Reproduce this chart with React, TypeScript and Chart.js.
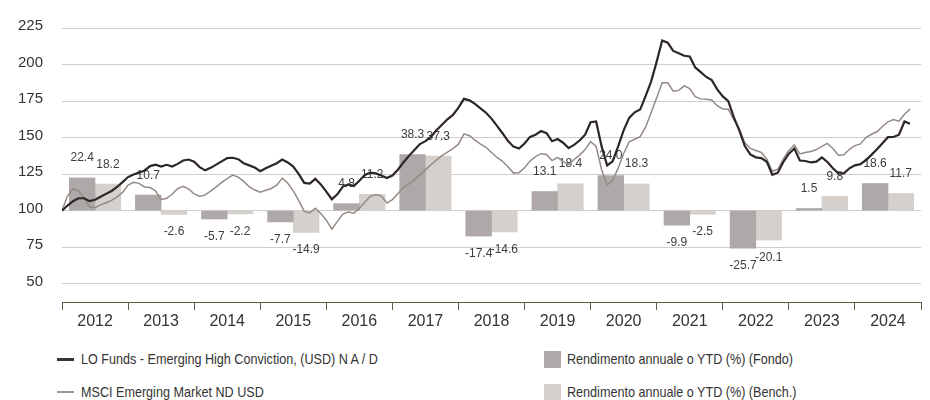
import React, { useEffect, useRef } from 'react';
import { Chart, registerables } from 'chart.js';

Chart.register(...registerables);

const years = ['2012', '2013', '2014', '2015', '2016', '2017', '2018', '2019', '2020', '2021', '2022', '2023', '2024'];
const fundAnnual = [22.4, 10.7, -5.7, -7.7, 4.8, 38.3, -17.4, 13.1, 24.0, -9.9, -25.7, 1.5, 18.6];
const benchAnnual = [18.2, -2.6, -2.2, -14.9, 11.2, 37.3, -14.6, 18.4, 18.3, -2.5, -20.1, 9.8, 11.7];
const yTicks = [50, 75, 100, 125, 150, 175, 200, 225];

const fundName = 'LO Funds - Emerging High Conviction, (USD) N A / D';
const benchName = 'MSCI Emerging Market ND USD';
const fundBarName = 'Rendimento annuale o YTD (%) (Fondo)';
const benchBarName = 'Rendimento annuale o YTD (%) (Bench.)';

// monthly index values, Dec 2011 = 100
const fundIndex = [
  100, 103.5, 106.5, 108.5, 108.5, 106.5, 107.5, 109.5, 111.5, 113.5, 116.2, 119.5,
  123, 124.8, 126, 127.5, 130.5, 131.5, 130.2, 131.4, 130.2, 132, 134.3, 135,
  133.5, 129.8, 127.6, 129.3, 131.5, 133.7, 136, 136.2, 135.2, 132.5, 131, 129.5,
  127, 129, 130.8, 132.5, 135, 133, 130.2, 125, 119, 118.5, 121.8, 118,
  113, 107.8, 111.2, 116.5, 118, 116.8, 120.5, 124.5, 126, 125.5, 124, 122.3,
  124, 128, 133, 137.5, 141.5, 145.6, 147.6, 150.5, 155, 158.8, 162.5, 165.5,
  170.5, 176.5, 175.5, 173.1, 170, 167, 163, 158, 153, 147.6, 143.8, 142.5,
  146, 150.5, 152, 154.5, 153, 147.5, 149, 146.5, 142.8, 145, 148, 152,
  160.5, 161, 144, 131, 133.8, 144, 155, 163.5, 167.3, 169.2, 178.5, 188.5,
  202, 216.5, 215, 209.3, 207.8, 206, 205.5, 198, 194.8, 191.5, 189.3, 183,
  178.2, 175, 164, 155, 144.2, 138.5, 136.5, 136, 133.5, 124.5, 126, 133.3,
  139, 142.5, 134.3, 134, 133, 133.5, 136.5, 133.3, 129, 125.5, 125.5, 129,
  131, 131.8, 134.6, 138.2, 142, 146.2, 150.3, 150.4, 152, 161, 159.5,
];
const benchIndex = [
  100, 110, 115, 113.5, 109, 102.5, 102, 104, 105.4, 107, 109.5, 112.5,
  117.5, 119.4, 118.7, 116.2, 115.8, 113.5, 107.5, 108.5, 111.2, 115, 116.6, 114.8,
  111.5, 109.7, 110.8, 113.4, 116.3, 119.3, 122, 124.3, 123, 120, 116.4, 114.1,
  112.7, 114, 115.2, 117.5, 122.3, 118.8, 113.5, 106.8, 99.5, 98.5, 101.6, 98,
  93.5, 87.3, 92.5, 97.6, 99.1, 98.2, 101.5, 106, 109.8, 111, 110, 105.2,
  107.6, 111.6, 116, 118.4, 121.2, 124.5, 127.9, 131.4, 134.6, 137.6, 140, 142.5,
  145.5, 152.6, 151.3, 148.2, 145.6, 143.4, 139.8, 136.4, 133.8, 130, 125.7, 126,
  129.3, 134, 137, 139, 138.5, 134.3, 136.5, 133.8, 131.5, 135, 138, 141.8,
  147.2, 144, 128, 117.5, 120.6, 129.1, 139.1, 147.1, 148.9, 150.7, 157.3, 167.2,
  177.2, 187.5, 187.5, 181.8, 182.3, 185.4, 183.5, 178, 176.5, 176.2, 175.7, 171.8,
  169.6, 169.4, 162.3, 155.8, 146.4, 142.6, 141.2, 139.8, 135.2, 127, 128.3, 135.5,
  141.2, 145, 138.8, 139.8, 140.5, 141.8, 144, 146, 142.5, 138, 138.3, 142,
  144.5, 145.7, 150, 152.3, 154, 157.6, 160.8, 162.3, 161.2, 166, 169.5,
];

const FONT = '"Liberation Sans", Arial, sans-serif';

const barLabels = {
  id: 'barLabels',
  afterDatasetDraw(chart: any, args: any) {
    const ds: any = chart.data.datasets[args.index];
    if (!ds.annual) return;
    const ctx = chart.ctx;
    ctx.save();
    ctx.font = '12px ' + FONT;
    ctx.fillStyle = '#3d3d3d';
    ctx.textAlign = 'center';
    ctx.textBaseline = 'alphabetic';
    args.meta.data.forEach((bar: any, i: number) => {
      const v = ds.annual[i];
      const y = v >= 0 ? bar.y - 16.5 : bar.y + 21;
      ctx.fillText(v.toFixed(1), bar.x, y);
    });
    ctx.restore();
  },
};

export default function App() {
  const ref = useRef<HTMLCanvasElement>(null);

  useEffect(() => {
    if (!ref.current) return;
    const chart = new Chart(ref.current, {
      type: 'bar',
      data: {
        labels: years,
        datasets: [
          {
            type: 'line',
            label: fundName,
            data: fundIndex.map((v, i) => ({ x: i, y: v })),
            xAxisID: 'xm',
            borderColor: '#2e2626',
            borderWidth: 2.2,
            pointRadius: 0,
            tension: 0,
            order: 0,
          } as any,
          {
            type: 'line',
            label: benchName,
            data: benchIndex.map((v, i) => ({ x: i, y: v })),
            xAxisID: 'xm',
            borderColor: '#958a84',
            borderWidth: 1.5,
            pointRadius: 0,
            tension: 0,
            order: 1,
          } as any,
          {
            type: 'bar',
            label: fundBarName,
            data: fundAnnual.map((v) => 100 + v),
            annual: fundAnnual,
            base: 100,
            xAxisID: 'x',
            backgroundColor: '#aea9a8',
            borderWidth: 0,
            barThickness: 25.7,
            order: 2,
          } as any,
          {
            type: 'bar',
            label: benchBarName,
            data: benchAnnual.map((v) => 100 + v),
            annual: benchAnnual,
            base: 100,
            xAxisID: 'x',
            backgroundColor: '#d5d0cc',
            borderWidth: 0,
            barThickness: 25.7,
            order: 3,
          } as any,
        ],
      },
      options: {
        animation: false,
        responsive: false,
        layout: { padding: { top: 21, right: 9, left: 0, bottom: 0 } },
        plugins: { legend: { display: false }, tooltip: { enabled: false } },
        scales: {
          x: {
            type: 'category',
            position: 'bottom',
            offset: true,
            grid: {
              display: true,
              drawOnChartArea: false,
              drawTicks: true,
              tickLength: 8,
              color: '#5f5f45',
              offset: true,
            },
            border: { display: true, color: '#5f5f45', width: 1 },
            ticks: { font: { family: FONT, size: 16 }, color: '#333', padding: 2, maxRotation: 0 },
            afterFit: (s: any) => {
              s.height = 38;
            },
          },
          xm: {
            type: 'linear',
            display: false,
            offset: false,
            grid: { offset: false },
            min: 0,
            max: 156,
          },
          y: {
            type: 'linear',
            min: 37.5,
            max: 225,
            afterBuildTicks: (s: any) => {
              s.ticks = yTicks.map((v) => ({ value: v }));
            },
            grid: { color: '#cdcdcd', lineWidth: 1, drawTicks: false },
            border: { display: false },
            ticks: { font: { family: FONT, size: 15 }, color: '#333', padding: 19, labelOffset: -2 },
            afterFit: (s: any) => {
              s.width = 62;
            },
          },
        },
      } as any,
      plugins: [barLabels],
    });
    return () => chart.destroy();
  }, []);

  const textStyle: React.CSSProperties = {
    position: 'absolute',
    fontFamily: FONT,
    fontSize: 15,
    color: '#333',
    lineHeight: '20px',
    whiteSpace: 'nowrap',
    transform: 'scaleX(0.84)',
    transformOrigin: '0 50%',
  };

  return (
    <div style={{ position: 'absolute', left: 0, top: 0, width: 930, height: 400, background: '#fff', overflow: 'hidden' }}>
      <canvas ref={ref} width={930} height={340} style={{ position: 'absolute', left: 0, top: 0 }} />
      <div style={{ position: 'absolute', left: 57, top: 358, width: 17, height: 3, background: '#3a3434' }} />
      <div style={{ ...textStyle, left: 81, top: 349 }}>{fundName}</div>
      <div style={{ position: 'absolute', left: 57, top: 391, width: 17, height: 2, background: '#a09893' }} />
      <div style={{ ...textStyle, left: 81, top: 382 }}>{benchName}</div>
      <div style={{ position: 'absolute', left: 544, top: 351, width: 17, height: 17, background: '#aea9a8' }} />
      <div style={{ ...textStyle, left: 567, top: 349 }}>{fundBarName}</div>
      <div style={{ position: 'absolute', left: 544, top: 384, width: 17, height: 17, background: '#d5d0cc' }} />
      <div style={{ ...textStyle, left: 567, top: 382 }}>{benchBarName}</div>
    </div>
  );
}
